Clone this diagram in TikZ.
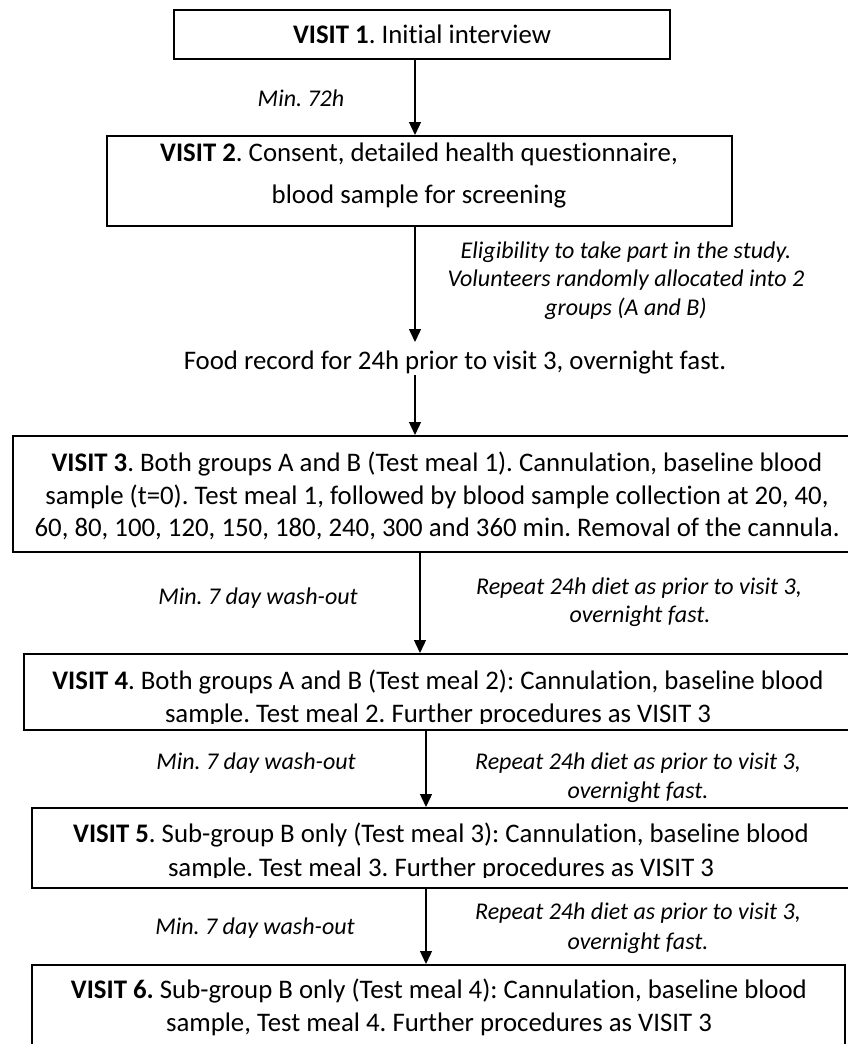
\documentclass[tikz,border=0pt]{standalone}
\usepackage{fontspec}
\setmainfont{Carlito}[Ligatures=NoCommon]
\usetikzlibrary{arrows.meta}
\frenchspacing
\begin{document}
\begin{tikzpicture}[x=1pt,y=-1pt,
  box/.style={draw=black,line width=2pt,inner sep=0pt,fill=none},
  big/.style={font=\fontsize{26.8}{32}\selectfont,inner sep=0pt,anchor=base},
  lab/.style={font=\fontsize{24}{29}\selectfont\itshape,inner sep=0pt,anchor=base},
  arr/.style={line width=1.3pt,-{Triangle[length=13pt,width=12pt]}}]
\useasboundingbox (0,0) rectangle (848,1044);

% boxes
\node[box,minimum width=496pt,minimum height=49pt] (b1) at (422,34.5) {};
\node[box,minimum width=625pt,minimum height=90pt] (b2) at (419.5,181) {};
\node[box,minimum width=848pt,minimum height=116pt] (b3) at (437,494) {};
\node[box,minimum width=828pt,minimum height=76pt] (b4) at (438,692) {};
\node[box,minimum width=818pt,minimum height=80pt] (b5) at (441,848) {};
\node[box,minimum width=813pt,minimum height=85pt] (b6) at (438.5,1007.5) {};

% box texts
\node[big] (v1) at (422,43) {\textbf{VISIT 1}. Initial interview};
\node[big] (v2a) at (419,161) {\textbf{VISIT 2}. Consent, detailed health questionnaire,};
\node[big] (v2b) at (419,203) {blood sample for screening};
\node[big] (v3a) at (437,471) {\textbf{VISIT 3}. Both groups A and B (Test meal 1). Cannulation, baseline blood};
\node[big] (v3b) at (437,504) {sample (t=0). Test meal 1, followed by blood sample collection at 20, 40,};
\node[big] (v3c) at (437,536) {60, 80, 100, 120, 150, 180, 240, 300 and 360 min. Removal of the cannula.};
\node[big] (v4a) at (438,689) {\textbf{VISIT 4}. Both groups A and B (Test meal 2): Cannulation, baseline blood};
\begin{scope}
  \clip (0,654) rectangle (848,723);
  \node[big] (v4b) at (438,722) {sample. Test meal 2. Further procedures as VISIT 3};
\end{scope}
\node[big] (v5a) at (441,842) {\textbf{VISIT 5}. Sub-group B only (Test meal 3): Cannulation, baseline blood};
\begin{scope}
  \clip (0,808) rectangle (848,877);
  \node[big] (v5b) at (441,876) {sample. Test meal 3. Further procedures as VISIT 3};
\end{scope}
\node[big] (v6a) at (439,998) {\textbf{VISIT 6.} Sub-group B only (Test meal 4): Cannulation, baseline blood};
\node[big] (v6b) at (439,1031) {sample, Test meal 4. Further procedures as VISIT 3};

% free text
\node[big] (food) at (455,369) {Food record for 24h prior to visit 3, overnight fast.};

% labels
\node[lab] (l1) at (301,106) {Min. 72h};
\node[lab] (l2a) at (626,258) {Eligibility to take part in the study.};
\node[lab] (l2b) at (626,286) {Volunteers randomly allocated into 2};
\node[lab] (l2c) at (626,315) {groups (A and B)};
\node[lab] (w1) at (258,604) {Min. 7 day wash-out};
\node[lab] (r1a) at (639,594) {Repeat 24h diet as prior to visit 3,};
\node[lab] (r1b) at (640,622) {overnight fast.};
\node[lab] (w2) at (256,769) {Min. 7 day wash-out};
\node[lab] (r2a) at (638,769) {Repeat 24h diet as prior to visit 3,};
\node[lab] (r2b) at (638,798) {overnight fast.};
\node[lab] (w3) at (255,934) {Min. 7 day wash-out};
\node[lab] (r3a) at (638,919) {Repeat 24h diet as prior to visit 3,};
\node[lab] (r3b) at (638,949) {overnight fast.};

% connectors
\coordinate (c1) at (415,0);
\coordinate (c2) at (420,0);
\coordinate (c3) at (426,0);
\coordinate (e2) at (415,342);
\coordinate (s3) at (415,375);
\draw[arr] (b1.south -| c1) -- (b2.north -| c1);
\draw[arr] (b2.south -| c1) -- (e2);
\draw[arr] (s3) -- (b3.north -| c1);
\draw[arr] (b3.south -| c2) -- (b4.north -| c2);
\draw[arr] (b4.south -| c3) -- (b5.north -| c3);
\draw[arr] (b5.south -| c3) -- (b6.north -| c3);
\end{tikzpicture}
\end{document}
